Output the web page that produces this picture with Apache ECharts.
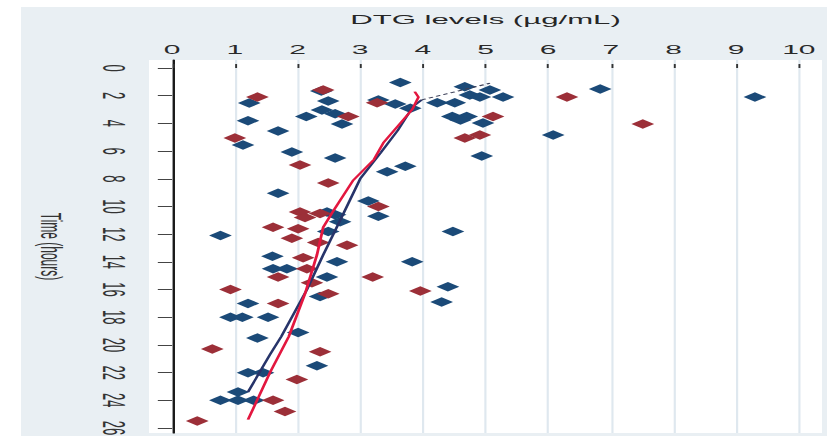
<!DOCTYPE html>
<html>
<head>
<meta charset="utf-8">
<script src="https://cdn.jsdelivr.net/npm/echarts@6/dist/echarts.min.js"></script>
<style>
  html, body { margin: 0; padding: 0; background: #fff; overflow: hidden; }
  #wrap { width: 827px; height: 436px; overflow: hidden; position: relative; }
  /* the figure is laid out narrow and stretched horizontally */
  #chart { width: 345px; height: 436px; transform: scaleX(2.3971); transform-origin: 0 0; }
</style>
</head>
<body>
<div id="wrap"><div id="chart"></div></div>
<script>
// Tick positions
const levelTicks = [0, 1, 2, 3, 4, 5, 6, 7, 8, 9, 10];
const timeTicks = [0, 2, 4, 6, 8, 10, 12, 14, 16, 18, 20, 22, 24, 26];

// Observed DTG levels (µg/mL) against time (hours): [level, time]
const bluePoints = [
  [3.64, 1.05], [6.83, 1.52], [9.30, 2.10], [4.67, 1.36], [5.07, 1.59], [4.75, 1.95],
  [4.91, 2.10], [5.28, 2.10], [4.23, 2.50], [4.51, 2.50], [3.29, 2.30], [3.56, 2.60],
  [3.80, 2.90], [1.23, 2.53], [2.49, 2.38], [2.38, 1.65], [2.39, 3.03], [2.14, 3.50],
  [2.60, 3.30], [1.21, 3.80], [2.71, 4.04], [4.47, 3.50], [4.70, 3.50], [4.60, 3.75],
  [4.96, 3.97], [1.69, 4.55], [6.08, 4.84], [1.13, 5.56], [1.91, 6.06], [2.60, 6.50],
  [4.94, 6.35], [3.72, 7.10], [3.43, 7.50], [1.69, 9.05], [3.13, 9.60], [3.29, 10.70],
  [2.47, 10.40], [2.60, 10.60], [2.68, 11.10], [0.77, 12.10], [2.49, 11.80], [4.48, 11.80],
  [1.60, 13.60], [2.63, 14.00], [3.83, 14.00], [1.61, 14.50], [1.83, 14.50], [2.47, 15.10],
  [4.40, 15.80], [4.30, 16.90], [2.36, 16.50], [1.21, 17.00], [0.93, 18.00], [1.12, 18.00],
  [1.53, 18.00], [2.01, 19.10], [1.36, 19.50], [2.31, 21.50], [1.21, 22.00], [1.45, 22.00],
  [1.05, 23.40], [0.77, 24.00], [1.05, 24.00], [1.30, 24.00]
];
const redPoints = [
  [2.41, 1.59], [1.36, 2.10], [3.27, 2.50], [2.81, 3.50], [1.00, 5.05], [2.04, 7.00],
  [6.30, 2.10], [7.51, 4.04], [5.12, 3.50], [4.67, 5.05], [4.91, 4.84], [2.49, 8.30],
  [3.29, 10.00], [2.04, 10.40], [2.12, 10.80], [2.36, 10.50], [1.61, 11.50], [2.01, 11.60],
  [1.91, 12.30], [2.33, 12.60], [2.79, 12.80], [2.09, 13.70], [2.15, 14.50], [1.69, 15.10],
  [3.20, 15.10], [2.23, 15.50], [0.93, 16.00], [3.96, 16.10], [2.49, 16.30], [1.69, 17.00],
  [0.64, 20.30], [2.36, 20.50], [1.99, 22.50], [1.61, 24.00], [1.80, 24.80], [0.40, 25.50]
];

// Smoothed trends: [level, time]
const blueTrend = [
  [1.21, 23.4], [1.56, 20.7], [1.74, 19.4], [2.15, 16.0], [2.41, 13.5], [2.68, 11.0],
  [3.00, 8.0], [3.33, 6.1], [3.60, 4.5], [3.84, 2.8], [3.98, 2.3]
];
const blueTrendTail = [[3.98, 2.3], [5.07, 1.1]];
const redTrend = [
  [1.21, 25.4], [1.56, 22.0], [1.86, 19.4], [2.12, 16.3], [2.31, 13.5], [2.41, 11.5],
  [2.56, 10.4], [2.89, 8.1], [3.22, 6.6], [3.37, 5.4], [3.83, 3.0], [3.93, 2.1], [3.87, 1.7]
];

const chart = echarts.init(document.getElementById('chart'), null, { renderer: 'svg' });
const font = 'Liberation Sans, Arial, sans-serif';

chart.setOption({
  animation: false,
  backgroundColor: '#ffffff',
  graphic: [{
    type: 'rect', z: -10, silent: true,
    shape: { x: 8.76, y: 7, width: 345 - 8.76, height: 429 },
    style: { fill: '#e9eff3' }
  }],
  grid: {
    left: 62.16, right: 2.08, top: 60, bottom: 3,
    outerBoundsMode: 'none', containLabel: false,
    show: true, backgroundColor: '#ffffff', borderWidth: 0
  },
  xAxis: {
    type: 'value', position: 'top', min: -0.37, max: 10.37,
    name: 'DTG levels (µg/mL)', nameLocation: 'middle', nameGap: 34,
    nameTextStyle: { fontSize: 13, color: '#262626', fontFamily: font },
    axisLine: { show: false },
    axisTick: { show: true, length: 4, customValues: levelTicks, lineStyle: { color: '#333', width: 0.8 } },
    axisLabel: { customValues: levelTicks, margin: 4, fontSize: 12.5, color: '#2a2a2a', fontFamily: font },
    splitLine: { show: true, lineStyle: { color: '#dfe8ef', width: 0.9 } }
  },
  yAxis: {
    type: 'value', inverse: true, min: -0.58, max: 26.36,
    name: 'Time (hours)', nameLocation: 'middle', nameRotate: -90, nameGap: 35,
    nameTextStyle: { fontSize: 12, color: '#333', fontFamily: font },
    axisLine: { show: true, lineStyle: { color: '#1a1a1a', width: 1 } },
    axisTick: { show: true, length: 6, customValues: timeTicks, lineStyle: { color: '#444', width: 1 } },
    axisLabel: { customValues: timeTicks, rotate: -90, margin: 8, fontSize: 13, color: '#333', fontFamily: font },
    splitLine: { show: false }
  },
  series: [
    { type: 'scatter', data: bluePoints, symbol: 'diamond', symbolSize: 9.5, itemStyle: { color: '#1b4a78', opacity: 1 } },
    { type: 'scatter', data: redPoints, symbol: 'diamond', symbolSize: 9.5, itemStyle: { color: '#9c2f38', opacity: 1 } },
    { type: 'line', data: blueTrend, showSymbol: false, lineStyle: { color: '#27346a', width: 1.2 } },
    { type: 'line', data: redTrend, showSymbol: false, lineStyle: { color: '#e3173f', width: 1.2 } },
    { type: 'line', data: blueTrendTail, showSymbol: false, lineStyle: { color: '#3c4058', width: 1, type: [2, 1.5] } }
  ]
});
</script>
</body>
</html>
